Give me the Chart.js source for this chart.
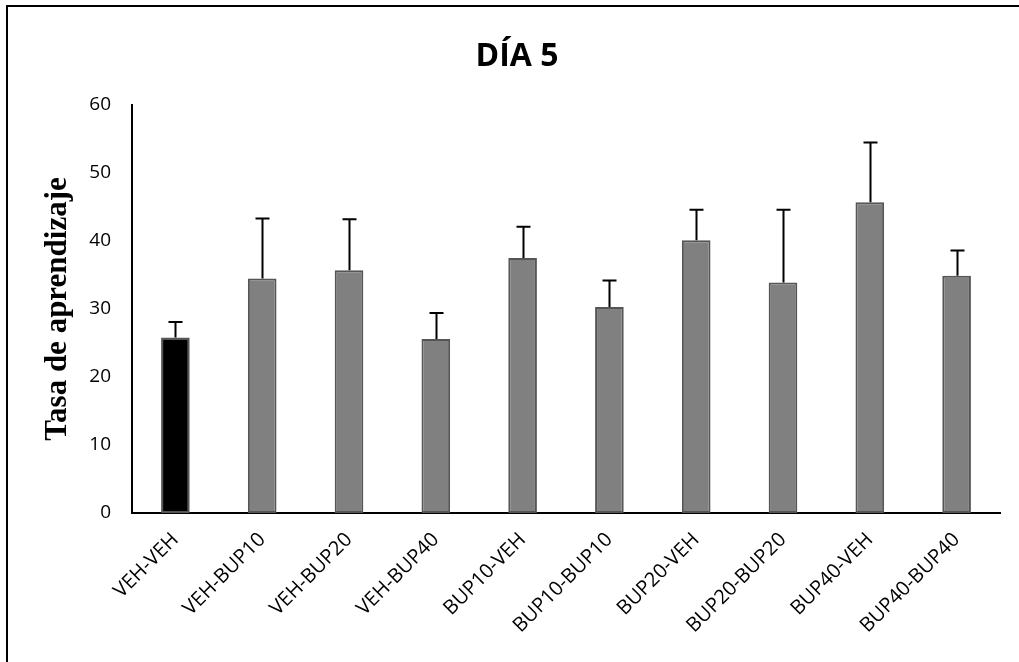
<!DOCTYPE html>
<html>
<head>
<meta charset="utf-8">
<script src="https://cdn.jsdelivr.net/npm/chart.js@4"></script>
<style>
  html, body { margin: 0; padding: 0; background: #fff; overflow: hidden; }
  #wrap { position: relative; width: 1019px; height: 662px; }
  #frame { position: absolute; left: 6px; top: 5px; width: 1100px; height: 800px; border: 2px solid #000; }
  #chart { position: absolute; left: 0; top: 0; }
</style>
</head>
<body>
<div id="wrap">
  <div id="frame"></div>
  <canvas id="chart" width="1019" height="662"></canvas>
</div>
<script>
// Datos: día 5
const groups = ['VEH-VEH', 'VEH-BUP10', 'VEH-BUP20', 'VEH-BUP40', 'BUP10-VEH', 'BUP10-BUP10', 'BUP20-VEH', 'BUP20-BUP20', 'BUP40-VEH', 'BUP40-BUP40'];
const means = [25.8, 34.5, 35.7, 25.6, 37.5, 30.3, 40.1, 33.9, 45.7, 34.9];
const errors = [2.3, 8.8, 7.5, 3.8, 4.6, 3.9, 4.5, 10.7, 8.8, 3.7];
const yTicks = [0, 10, 20, 30, 40, 50, 60];

const barColors = groups.map((g, i) => i === 0 ? '#000000' : '#808080');

// error bars (upper only), drawn through the y scale
const errorBars = {
  id: 'errorBars',
  afterDatasetsDraw(chart) {
    const ctx = chart.ctx;
    const y = chart.scales.y;
    const meta = chart.getDatasetMeta(0);
    ctx.save();
    ctx.strokeStyle = '#000';
    ctx.lineWidth = 2;
    meta.data.forEach((bar, i) => {
      const x = Math.round(bar.x) + 0.5;
      const top = y.getPixelForValue(means[i] + errors[i]);
      const base = y.getPixelForValue(means[i]);
      ctx.beginPath();
      ctx.moveTo(x, base);
      ctx.lineTo(x, top);
      ctx.moveTo(x - 7, top);
      ctx.lineTo(x + 7, top);
      ctx.stroke();
    });
    ctx.restore();
  }
};

new Chart(document.getElementById('chart').getContext('2d'), {
  type: 'bar',
  data: {
    labels: groups,
    datasets: [{
      data: means,
      backgroundColor: barColors,
      borderColor: '#555555',
      borderWidth: 2,
      borderSkipped: false,
      barPercentage: 0.33,
      categoryPercentage: 1,
    }],
  },
  options: {
    responsive: false,
    animation: false,
    layout: { padding: { left: 15, right: 0, top: 0, bottom: 0 } },
    plugins: {
      legend: { display: false },
      tooltip: { enabled: false },
      title: {
        display: true,
        text: 'DÍA 5',
        color: '#000',
        font: { family: 'Open Sans', size: 32, weight: 'bold', lineHeight: 1.2 },
        padding: { top: 38, bottom: 28.6 },
      },
    },
    scales: {
      x: {
        grid: { display: false, drawTicks: false },
        border: { display: true, color: '#000', width: 2 },
        ticks: {
          color: '#000',
          font: { family: 'Open Sans', size: 20 },
          minRotation: 45, maxRotation: 45,
          padding: 15,
          autoSkip: false,
        },
        afterFit: (s) => { s.height = 149; },
      },
      y: {
        min: 0, max: 60,
        afterBuildTicks: (s) => { s.ticks = yTicks.map(v => ({ value: v })); },
        grid: { display: false, drawTicks: false },
        border: { display: true, color: '#000', width: 2 },
        ticks: {
          color: '#000',
          font: { family: 'Open Sans', size: 19 },
          padding: 21,
        },
        title: {
          display: true,
          text: 'Tasa de aprendizaje',
          color: '#000',
          font: { family: 'Liberation Serif', size: 31, weight: 'bold', lineHeight: 1 },
          padding: { top: 27, bottom: 0 },
        },
        afterFit: (s) => { s.width = 117; },
      },
      // empty right gutter so the chart area ends at x = 1000
      gutter: {
        type: 'linear',
        position: 'right',
        display: true,
        grid: { display: false, drawTicks: false },
        border: { display: false },
        ticks: { display: false },
        afterFit: (s) => { s.width = 19; },
      },
    },
  },
  plugins: [errorBars],
});
</script>
</body>
</html>
